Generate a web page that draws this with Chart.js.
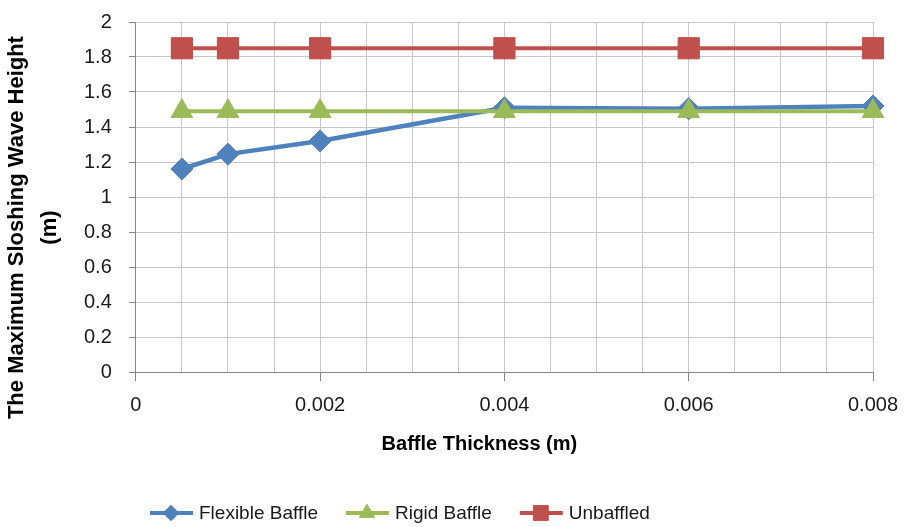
<!DOCTYPE html>
<html>
<head>
<meta charset="utf-8">
<script src="https://cdn.jsdelivr.net/npm/chart.js@4.4.1/dist/chart.umd.min.js"></script>
<style>
  body { margin: 0; background: #fff; }
</style>
</head>
<body>
<canvas id="chart" width="906" height="527"></canvas>
<script>
// data
const thickness = [0.0005, 0.001, 0.002, 0.004, 0.006, 0.008];
const flexible = [1.16, 1.245, 1.32, 1.51, 1.505, 1.52];
const rigid = [1.49, 1.49, 1.49, 1.49, 1.49, 1.49];
const unbaffled = [1.85, 1.85, 1.85, 1.85, 1.85, 1.85];
const seriesNames = ['Flexible Baffle', 'Rigid Baffle', 'Unbaffled'];
const xTickLabels = [0, 0.002, 0.004, 0.006, 0.008];
const yTitle = ['The Maximum Sloshing Wave Height', '(m)'];
const xTitle = 'Baffle Thickness (m)';

const FONT = '"Liberation Sans", Arial, sans-serif';
const pad = (s, n) => s + '\u00a0'.repeat(n);
const isMajor = v => xTickLabels.some(t => Math.abs(t - v) < 1e-9);

const toPoints = ys => thickness.map((x, i) => ({ x: x, y: ys[i] }));

// legend drawn under the plot: line + marker + text
const bottomLegend = {
  id: 'bottomLegend',
  afterDraw(chart) {
    const ctx = chart.ctx;
    let x = 150;
    const y = 513;
    ctx.save();
    ctx.font = '19px ' + FONT;
    ctx.textBaseline = 'middle';
    chart.data.datasets.forEach(ds => {
      ctx.strokeStyle = ds.borderColor;
      ctx.lineWidth = 4;
      ctx.beginPath();
      ctx.moveTo(x, y);
      ctx.lineTo(x + 43, y);
      ctx.stroke();
      ctx.fillStyle = ds.borderColor;
      ctx.lineWidth = 1;
      Chart.helpers.drawPoint(ctx, {
        pointStyle: ds.pointStyle,
        radius: ds.pointRadius * 0.7,
        borderWidth: 1,
        rotation: 0
      }, x + 21, y);
      ctx.fillStyle = '#1a1a1a';
      ctx.fillText(ds.label, x + 49, y + 1);
      x += 49 + ctx.measureText(ds.label).width + 28;
    });
    ctx.restore();
  }
};

const ctx = document.getElementById('chart').getContext('2d');
new Chart(ctx, {
  type: 'line',
  data: {
    datasets: [
      {
        label: seriesNames[0],
        data: toPoints(flexible),
        borderColor: '#4F81BD',
        backgroundColor: '#4F81BD',
        borderWidth: 4.5,
        pointStyle: 'rectRot',
        pointRadius: 11,
        pointBorderWidth: 1,
        order: 3,
        clip: false
      },
      {
        label: seriesNames[1],
        data: toPoints(rigid),
        borderColor: '#9BBB59',
        backgroundColor: '#9BBB59',
        borderWidth: 4,
        pointStyle: 'triangle',
        pointRadius: 12.5,
        pointBorderWidth: 1,
        order: 2,
        clip: false
      },
      {
        label: seriesNames[2],
        data: toPoints(unbaffled),
        borderColor: '#C0504D',
        backgroundColor: '#C0504D',
        borderWidth: 4,
        pointStyle: 'rect',
        pointRadius: 15,
        pointBorderWidth: 1,
        order: 1,
        clip: false
      }
    ]
  },
  options: {
    responsive: false,
    animation: false,
    layout: { padding: { left: 0, right: 0, top: 0, bottom: 71 } },
    plugins: {
      legend: { display: false },
      tooltip: { enabled: false }
    },
    scales: {
      x: {
        type: 'linear',
        min: 0,
        max: 0.008,
        afterFit: s => { s.paddingLeft = 0; s.paddingRight = 33; },
        border: { color: '#868686', width: 1 },
        grid: {
          color: '#C8C8C8',
          tickLength: 9,
          tickColor: c => (c.tick && isMajor(c.tick.value)) ? '#868686' : 'rgba(0,0,0,0)'
        },
        ticks: {
          stepSize: 0.0005,
          autoSkip: false,
          maxRotation: 0,
          padding: 12,
          color: '#1a1a1a',
          font: { family: FONT, size: 20 },
          callback: v => isMajor(v) ? String(+v.toFixed(3)) : ''
        },
        title: {
          display: true,
          text: pad(xTitle, 9),
          color: '#000',
          font: { family: FONT, size: 20, weight: 'bold' },
          padding: { top: 3, bottom: 0 }
        }
      },
      y: {
        min: 0,
        max: 2,
        afterFit: s => { s.paddingTop = 22; s.paddingBottom = 0; },
        border: { color: '#868686', width: 1 },
        grid: { color: '#C8C8C8', tickLength: 7, tickColor: '#868686' },
        ticks: {
          stepSize: 0.2,
          padding: 17,
          color: '#1a1a1a',
          font: { family: FONT, size: 20 },
          callback: v => String(+v.toFixed(1))
        },
        title: {
          display: true,
          text: yTitle.map(s => pad(s, 10)),
          color: '#000',
          font: { family: FONT, size: 22, weight: 'bold', lineHeight: 1.5 },
          padding: { top: 0, bottom: 1 }
        }
      }
    }
  },
  plugins: [bottomLegend]
});
</script>
</body>
</html>
